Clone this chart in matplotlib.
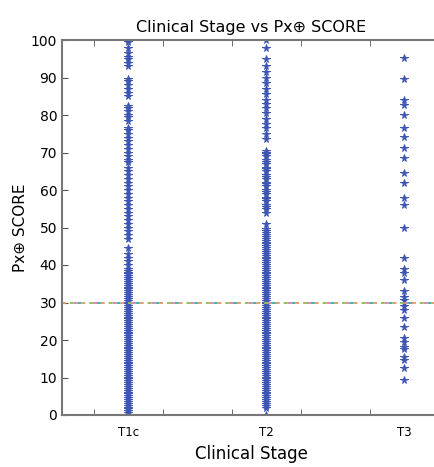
import matplotlib
matplotlib.use('Agg')
from matplotlib import pyplot as plt

# stage categories and Px+ score readings per stage
stages = ['T1c', 'T2', 'T3']

t1c_scores = [100, 99.5, 98, 96.5, 95.5, 95, 94, 93, 89.5, 89, 88, 87, 86, 85,
              82.5, 82, 81, 80, 79.5, 78.5, 76.5, 76, 75, 74, 73, 72, 71, 70, 69,
              68, 67.5, 66, 65, 64, 63, 62, 61, 60, 59, 58, 57, 56, 55, 54, 53,
              52, 51, 50, 49, 48, 47, 44.5, 43, 42, 41, 40, 39, 38.5, 38, 37.5,
              37, 36.5, 36, 35.5, 35, 34.5, 34, 33.5, 33, 32.5, 32, 31.5, 31,
              30.5, 30, 29.5, 29, 28.5, 28, 27.5, 27, 26.5, 26, 25.5, 25, 24.5,
              24, 23.5, 23, 22.5, 22, 21.5, 21, 20.5, 20, 19.5, 19, 18.5, 18,
              17.5, 17, 16.5, 16, 15.5, 15, 14.5, 14, 13.5, 13, 12.5, 12, 11.5,
              11, 10.5, 10, 9.5, 9, 8.5, 8, 7.5, 7, 6.5, 6, 5.5, 5, 4.5, 4, 3.5,
              3, 2.5, 2, 1.5, 1, 0.5]

t2_scores = [100, 98, 95, 93, 91.5, 90, 88.5, 87, 85.5, 84, 83, 82, 80.5, 79,
             77.5, 76.5, 75, 73.5, 70.5, 70, 69.5, 69, 68, 67.5, 67, 66, 65.5,
             65, 64, 63.5, 63, 62, 61.5, 61, 60, 59.5, 59, 58, 57.5, 57, 56,
             55.5, 55, 54, 51, 49.5, 49, 48.5, 48, 47.5, 47, 46.5, 46, 45.5,
             45, 44.5, 44, 43.5, 43, 42.5, 42, 41.5, 41, 40.5, 40, 39.5, 39,
             38.5, 38, 37.5, 37, 36.5, 36, 35.5, 35, 34.5, 34, 33.5, 33, 32.5,
             32, 31.5, 31, 30.5, 30, 29.5, 29, 28.5, 28, 27.5, 27, 26.5, 26,
             25.5, 25, 24.5, 24, 23.5, 23, 22.5, 22, 21.5, 21, 20.5, 20, 19.5,
             19, 18.5, 18, 17.5, 17, 16.5, 16, 15.5, 15, 14.5, 14, 13.5, 13,
             12.5, 12, 11.5, 11, 10.5, 10, 9.5, 9, 8.5, 8, 7.5, 7, 6.5, 6, 5.5,
             5, 4.5, 4, 3.5, 3, 2.5, 2, 0]

t3_scores = [95.2, 89.5, 84, 82.7, 80, 76.5, 74.2, 71.2, 68.5, 64.5, 62, 57.9,
             56, 50, 41.9, 38.9, 37.8, 36, 33, 31.5, 30.7, 29.8, 29, 28, 26,
             23.5, 20.5, 19.5, 18.2, 17.5, 15.5, 14.7, 12.5, 9.3]

cutoff = 30

fig = plt.figure(figsize=(4.35, 4.67), dpi=100)
ax = fig.add_axes([62 / 435, 52 / 467, 378 / 435, 375 / 467])

for i, scores in enumerate([t1c_scores, t2_scores, t3_scores]):
    ax.plot([i + 1] * len(scores), scores, linestyle='none', marker='*',
            markersize=5.5, color='#3d55b3', markeredgewidth=0.7)

# multicoloured dashed cutoff line
dash_colors = ['#e0a070', '#4bb0a6', '#d88ab0', '#96c05a']
for k, c in enumerate(dash_colors):
    ax.axhline(cutoff, color=c, linewidth=1.4,
               linestyle=(k * 2.0, (2.0, 8.0)))

ax.set_xlim(0.52, 3.26)
ax.set_ylim(0, 100)
ax.set_xticks([1, 2, 3])
ax.set_xticklabels(stages, fontsize=8.5)
ax.set_xticks([0.75, 1.25, 1.75, 2.25, 2.75, 3.25], minor=True)
ax.tick_params(axis='x', which='major', length=0, pad=8)
ax.tick_params(axis='x', which='minor', direction='in', length=4, top=True,
               bottom=True, color='#555555')
ax.set_yticks(range(0, 101, 10))
ax.tick_params(axis='y', direction='in', length=4, left=True, right=True,
               labelsize=10, color='#555555')
for s in ax.spines.values():
    s.set_color('#777777')
    s.set_linewidth(1.5)

ax.set_title('Clinical Stage vs Px⊕ SCORE', fontsize=11.5, pad=6)
ax.set_xlabel('Clinical Stage', fontsize=12)
ax.set_ylabel('Px⊕ SCORE', fontsize=11, labelpad=2)

plt.savefig('out.png', dpi=100)
